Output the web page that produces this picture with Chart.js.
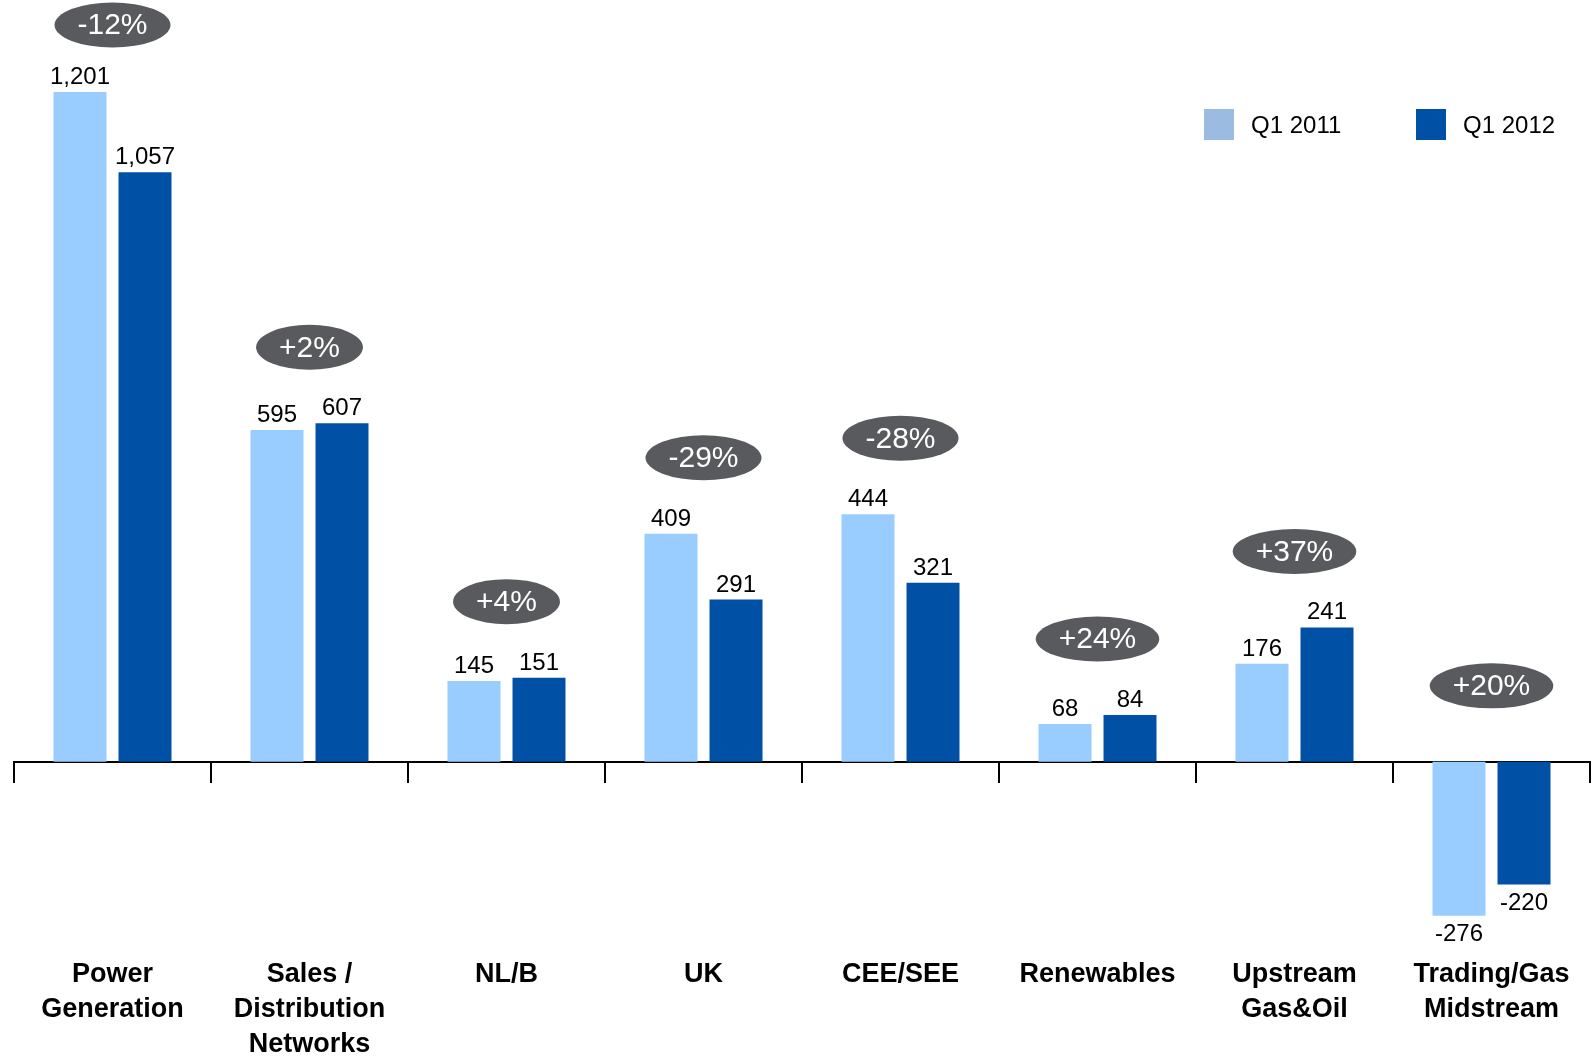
<!DOCTYPE html>
<html>
<head>
<meta charset="utf-8">
<script src="https://cdn.jsdelivr.net/npm/chart.js@4.4.1/dist/chart.umd.min.js"></script>
<style>
html,body{margin:0;padding:0;background:#fff;}
#wrap{width:1594px;height:1058px;position:relative;}
</style>
</head>
<body>
<div id="wrap"><canvas id="c" width="1594" height="1058"></canvas></div>
<script>
const categories = [['Power','Generation'],['Sales /','Distribution','Networks'],'NL/B','UK','CEE/SEE','Renewables',['Upstream','Gas&Oil'],['Trading/Gas','Midstream']];
const q1_2011 = [1201, 595, 145, 409, 444, 68, 176, -276];
const q1_2012 = [1057, 607, 151, 291, 321, 84, 241, -220];
const changeLabels = ['-12%', '+2%', '+4%', '-29%', '-28%', '+24%', '+37%', '+20%'];
const seriesNames = ['Q1 2011', 'Q1 2012'];

const FONT = '"Liberation Sans", Arial, Helvetica, sans-serif';
const barColors = ['#99CCFF', '#0050A5'];
const legendColors = ['#9BBBE0', '#0050A5'];

const overlayPlugin = {
  id: 'overlay',
  afterDatasetsDraw(chart) {
    const ctx = chart.ctx;
    const xs = chart.scales.x, ys = chart.scales.y;
    ctx.save();
    // value labels
    ctx.font = '24px ' + FONT;
    ctx.fillStyle = '#000';
    ctx.textAlign = 'center';
    ctx.textBaseline = 'alphabetic';
    chart.data.datasets.forEach((ds, di) => {
      const meta = chart.getDatasetMeta(di);
      meta.data.forEach((bar, i) => {
        const v = ds.data[i];
        const txt = v.toLocaleString('en-US');
        if (v >= 0) ctx.fillText(txt, bar.x, bar.y - 8);
        else ctx.fillText(txt, bar.x, bar.y + 25);
      });
    });
    // change ellipses
    const m0 = chart.getDatasetMeta(0), m1 = chart.getDatasetMeta(1);
    const zero = ys.getPixelForValue(0);
    ctx.font = '30px ' + FONT;
    ctx.textBaseline = 'middle';
    changeLabels.forEach((lab, i) => {
      const cx = xs.getPixelForValue(i);
      const top = Math.min(m0.data[i].y, m1.data[i].y, zero);
      const cy = Math.max(top - 76, 25);
      const w = ctx.measureText(lab).width + 46;
      const h = 45;
      ctx.beginPath();
      ctx.ellipse(cx, cy, w / 2, h / 2, 0, 0, Math.PI * 2);
      ctx.fillStyle = '#595a5e';
      ctx.fill();
      ctx.fillStyle = '#fff';
      ctx.fillText(lab, cx, cy + 1);
    });
    // legend
    ctx.font = '24px ' + FONT;
    ctx.textAlign = 'left';
    ctx.textBaseline = 'middle';
    const legendX = [1204, 1416];
    seriesNames.forEach((name, k) => {
      ctx.fillStyle = legendColors[k];
      ctx.fillRect(legendX[k], 109, 30, 31);
      ctx.fillStyle = '#000';
      ctx.fillText(name, legendX[k] + 47, 126);
    });
    ctx.restore();
  }
};

new Chart(document.getElementById('c'), {
  type: 'bar',
  data: {
    labels: categories,
    datasets: [
      { label: seriesNames[0], data: q1_2011, backgroundColor: barColors[0], xAxisID: 'x', yAxisID: 'y',
        categoryPercentage: 0.66, barPercentage: 0.815 },
      { label: seriesNames[1], data: q1_2012, backgroundColor: barColors[1], xAxisID: 'x', yAxisID: 'y',
        categoryPercentage: 0.66, barPercentage: 0.815 }
    ]
  },
  options: {
    responsive: false,
    animation: false,
    layout: { padding: { left: 14, right: 4, top: 0, bottom: 0 } },
    plugins: { legend: { display: false }, tooltip: { enabled: false } },
    scales: {
      x: {
        position: 'bottom',
        offset: true,
        grid: { display: false, drawTicks: false, offset: true },
        border: { display: false },
        afterFit(scale) { scale.height = 121; },
        ticks: {
          autoSkip: false, maxRotation: 0, minRotation: 0, padding: 20,
          color: '#000',
          font: { family: FONT, size: 27, weight: 'bold', lineHeight: '35px' }
        }
      },
      x2: {
        type: 'category',
        axis: 'x',
        position: { y: 0 },
        offset: true,
        afterFit(scale) { scale.height = 0; },
        grid: { display: true, drawOnChartArea: false, drawTicks: true, tickLength: 20, color: '#000', lineWidth: 2, offset: true },
        border: { display: true, color: '#000', width: 2 },
        ticks: { display: false }
      },
      y: {
        display: false,
        min: -314,
        max: 1366
      }
    }
  },
  plugins: [overlayPlugin]
});
</script>
</body>
</html>
